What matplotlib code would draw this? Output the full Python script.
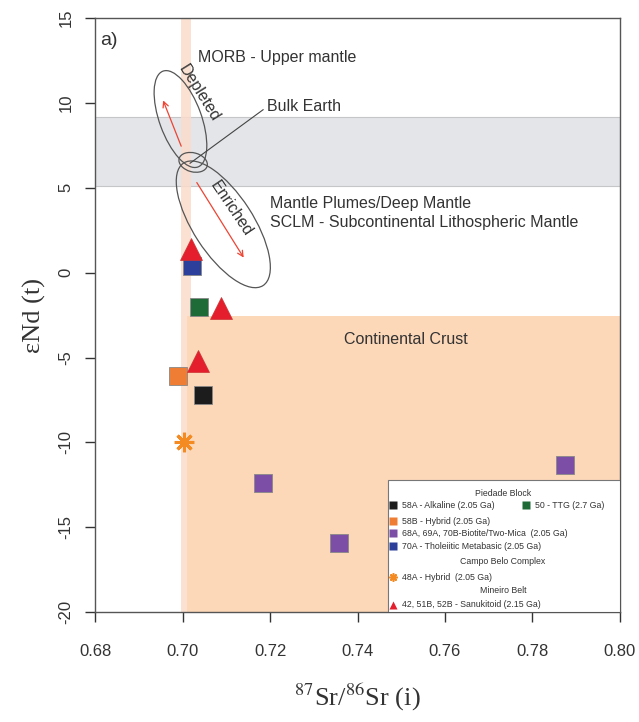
import numpy as np
import matplotlib.pyplot as plt
from matplotlib.patches import Ellipse, Rectangle
import matplotlib.transforms as mtransforms

plt.rcParams['font.family'] = ['Liberation Sans', 'DejaVu Sans']
plt.rcParams['mathtext.fontset'] = 'stix'
plt.rcParams['axes.unicode_minus'] = False

# 87Sr/86Sr (i) and eNd (t) for each sample group
alk_sr, alk_nd = [0.7047], [-7.2]              # 58A - Alkaline
ttg_sr, ttg_nd = [0.7037], [-2.0]              # 50 - TTG
hyb_sr, hyb_nd = [0.6990], [-6.1]              # 58B - Hybrid
bio_sr = [0.7184, 0.7358, 0.7874]              # 68A, 69A, 70B
bio_nd = [-12.4, -15.9, -11.3]
tho_sr, tho_nd = [0.7022], [0.4]               # 70A - Tholeiitic
cb_sr, cb_nd = [0.7003], [-10.0]               # 48A - Campo Belo hybrid
san_sr = [0.7019, 0.7088, 0.7035]              # 42, 51B, 52B - Sanukitoid
san_nd = [1.4, -2.1, -5.2]

# reference fields
bulk_earth_band = (5.1, 9.2)
sr_band = (0.6996, 0.7018)
crust_sr_min, crust_nd_max = 0.7010, -2.55

fig = plt.figure(figsize=(6.39, 7.22), dpi=100)
ax = fig.add_axes([0.149, 0.152, 0.821, 0.823])
ax.set_xlim(0.68, 0.80)
ax.set_ylim(-20, 15)

ax.axhspan(*bulk_earth_band, facecolor='#e3e5e8', edgecolor='#c4c6c8', lw=0.8, zorder=0)
ax.axvspan(*sr_band, facecolor='#fbdccb', alpha=0.85, lw=0, zorder=0.5)
ax.add_patch(Rectangle((crust_sr_min, -20), 0.80 - crust_sr_min, crust_nd_max + 20,
                       facecolor='#fcd7b8', edgecolor='none', zorder=0.6))
ax.text(0.751, -3.95, 'Continental Crust', fontsize=11.5, color='#333333',
        ha='center', va='center')

# mantle ellipses, sized in inches around a data-space centre
def ellipse(xc, yc, w, h, ang):
    tr = fig.dpi_scale_trans + mtransforms.ScaledTranslation(xc, yc, ax.transData)
    ax.add_patch(Ellipse((0, 0), w, h, angle=ang, transform=tr, fill=False,
                         edgecolor='#555555', lw=0.9, zorder=2))

ellipse(0.6995, 9.05, 1.02, 0.42, -70)
ellipse(0.7024, 6.5, 0.29, 0.19, -15)
ellipse(0.7093, 2.85, 1.46, 0.60, -57)

arrow = dict(arrowstyle='->', color='#ee4433', lw=0.9, mutation_scale=10)
ax.annotate('', xy=(0.6953, 10.3), xytext=(0.6999, 7.3), arrowprops=arrow, zorder=2)
ax.annotate('', xy=(0.7143, 0.75), xytext=(0.7029, 5.45), arrowprops=arrow, zorder=2)

ax.text(0.7037, 10.6, 'Depleted', rotation=-58, fontsize=11.5, color='#333333',
        ha='center', va='center', rotation_mode='anchor')
ax.text(0.7112, 3.8, 'Enriched', rotation=-56, fontsize=11.5, color='#333333',
        ha='center', va='center', rotation_mode='anchor')
ax.text(0.7035, 12.7, 'MORB - Upper mantle', fontsize=11.5, color='#333333', va='center')
ax.plot([0.7017, 0.7184], [6.45, 9.6], color='#444444', lw=0.8, zorder=2)
ax.text(0.7193, 9.8, 'Bulk Earth', fontsize=11.5, color='#333333', va='center')
ax.text(0.7200, 4.1, 'Mantle Plumes/Deep Mantle', fontsize=11.5, color='#333333', va='center')
ax.text(0.7200, 2.95, 'SCLM - Subcontinental Lithospheric Mantle', fontsize=11.5,
        color='#333333', va='center')
ax.text(0.6811, 13.7, 'a)', fontsize=14, color='#333333', va='center')

sq = dict(marker='s', ms=13, mec='#888888', mew=0.6, ls='none', zorder=4)
tri = dict(marker='^', ms=16, mec='#cc3333', mew=0.5, ls='none', zorder=4)
ax.plot(alk_sr, alk_nd, mfc='#1c1c1c', **sq)
ax.plot(ttg_sr, ttg_nd, mfc='#1e6b37', **sq)
ax.plot(hyb_sr, hyb_nd, mfc='#ef7e34', **sq)
ax.plot(bio_sr, bio_nd, mfc='#7d4ea5', **sq)
ax.plot(tho_sr, tho_nd, mfc='#2b3f9b', **sq)
ax.plot(san_sr, san_nd, mfc='#e41e2c', **tri)
ax.plot(cb_sr, cb_nd, marker=(8, 2, 0), ms=14, mec='#f38b22', mew=2.2, ls='none', zorder=4)

# legend box drawn in axes fraction
ta = ax.transAxes
ax.add_patch(Rectangle((0.558, 0.0), 0.442, 0.222, transform=ta, facecolor='white',
                       edgecolor='#777777', lw=0.8, zorder=5))
lfs = 6.3
for y, s in [(0.200, 'Piedade Block'), (0.086, 'Campo Belo Complex'), (0.037, 'Mineiro Belt')]:
    ax.text(0.777, y, s, transform=ta, fontsize=lfs, color='#333333',
            ha='center', va='center', zorder=6)
rows = [
    (0.568, 0.180, dict(marker='s', mfc='#1c1c1c'), '58A - Alkaline (2.05 Ga)'),
    (0.821, 0.180, dict(marker='s', mfc='#1e6b37'), '50 - TTG (2.7 Ga)'),
    (0.568, 0.153, dict(marker='s', mfc='#ef7e34'), '58B - Hybrid (2.05 Ga)'),
    (0.568, 0.133, dict(marker='s', mfc='#7d4ea5'), '68A, 69A, 70B-Biotite/Two-Mica  (2.05 Ga)'),
    (0.568, 0.111, dict(marker='s', mfc='#2b3f9b'), '70A - Tholeiitic Metabasic (2.05 Ga)'),
    (0.568, 0.059, dict(marker=(8, 2, 0), mec='#f38b22', mew=1.2), '48A - Hybrid  (2.05 Ga)'),
    (0.568, 0.013, dict(marker='^', mfc='#e41e2c'), '42, 51B, 52B - Sanukitoid (2.15 Ga)'),
]
for x, y, mk, label in rows:
    style = dict(ms=6, mec='none', ls='none')
    style.update(mk)
    ax.plot([x], [y], transform=ta, zorder=6, clip_on=False, **style)
    ax.text(x + 0.017, y, label, transform=ta, fontsize=lfs, color='#333333',
            va='center', zorder=6)

ax.set_xticks(np.arange(0.68, 0.801, 0.02))
ax.set_xticklabels(['%.2f' % v for v in np.arange(0.68, 0.801, 0.02)])
ax.set_yticks(np.arange(-20, 16, 5))
ax.tick_params(direction='out', length=7.5, width=1, colors='#333333', labelsize=12)
ax.tick_params(axis='x', pad=15)
ax.tick_params(axis='y', pad=8)
for lab in ax.get_yticklabels():
    lab.set_rotation(90)
    lab.set_va('center')
for sp in ax.spines.values():
    sp.set_color('#555555')
    sp.set_linewidth(1.0)

ax.set_xlabel(r'$^{87}$Sr/$^{86}$Sr (i)', family='Liberation Serif', fontsize=19,
              color='#333333', labelpad=17)
ax.set_ylabel('εNd (t)', family='Liberation Serif', fontsize=19, color='#333333',
              labelpad=9)

fig.savefig('out.png', dpi=100)
